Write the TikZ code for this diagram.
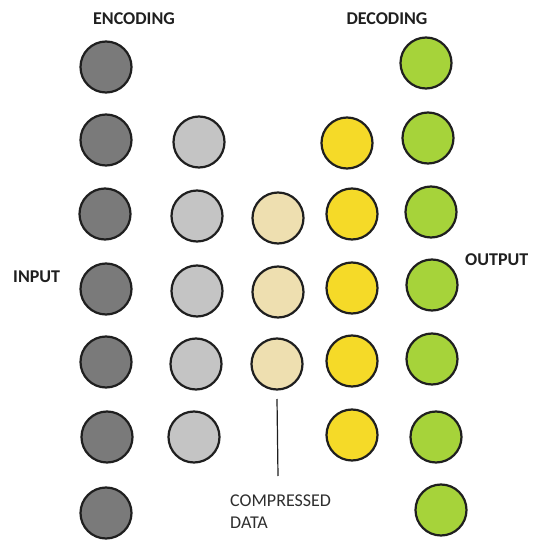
\documentclass[tikz,border=0pt]{standalone}
\usepackage{fontspec}
\setmainfont{Carlito}
\begin{document}
\begin{tikzpicture}[x=1pt,y=-1pt,
  unit/.style={circle,draw=black!88,line width=2.2pt,minimum size=51pt,inner sep=0pt},
  dark/.style={unit,fill=black!52},
  light/.style={unit,fill=black!23},
  beige/.style={unit,fill={rgb,255:red,238;green,223;blue,176}},
  yel/.style={unit,fill={rgb,255:red,245;green,218;blue,40}},
  grn/.style={unit,fill={rgb,255:red,166;green,211;blue,58}},
  lbl/.style={font=\fontsize{18}{20}\selectfont\bfseries,text=black!88,inner sep=0pt},
  ann/.style={font=\fontsize{18}{22}\selectfont,text=black!82,inner sep=0pt,align=left}]
\useasboundingbox (0,0) rectangle (541,540);
% encoding column 1
\node[dark] (a1) at (106,67) {};
\node[dark] (a2) at (106,140) {};
\node[dark] (a3) at (105,214) {};
\node[dark] (a4) at (106,289) {};
\node[dark] (a5) at (106,362) {};
\node[dark] (a6) at (107,437) {};
\node[dark] (a7) at (106,513) {};
% encoding column 2
\node[light] (b2) at (199,142) {};
\node[light] (b3) at (197,216) {};
\node[light] (b4) at (197,291) {};
\node[light] (b5) at (196,364) {};
\node[light] (b6) at (194,437) {};
% compressed
\node[beige] (c3) at (278,218) {};
\node[beige] (c4) at (278,292) {};
\node[beige] (c5) at (277,364) {};
% decoding yellow
\node[yel] (d2) at (347,143) {};
\node[yel] (d3) at (352,214) {};
\node[yel] (d4) at (352,288) {};
\node[yel] (d5) at (352,361) {};
\node[yel] (d6) at (352,435) {};
% output green
\node[grn] (e1) at (426,63) {};
\node[grn] (e2) at (428,138) {};
\node[grn] (e3) at (431,212) {};
\node[grn] (e4) at (432,285) {};
\node[grn] (e5) at (432,359) {};
\node[grn] (e6) at (436,437) {};
\node[grn] (e7) at (441,510) {};
% labels
\node[lbl] (enc) at (134,19) {ENCODING};
\node[lbl] (dec) at (387,19) {DECODING};
\node[lbl,anchor=west] (inp) at (13,277) {INPUT};
\node[lbl,anchor=west] (out) at (465,260) {OUTPUT};
\node[ann,anchor=north west] (cd) at (230,495) {COMPRESSED\\DATA};
\coordinate (ltop) at (277,399);
\coordinate (lbot) at (278,476);
\draw[line width=1.2pt,black!88] (ltop) -- (lbot);
\end{tikzpicture}
\end{document}
